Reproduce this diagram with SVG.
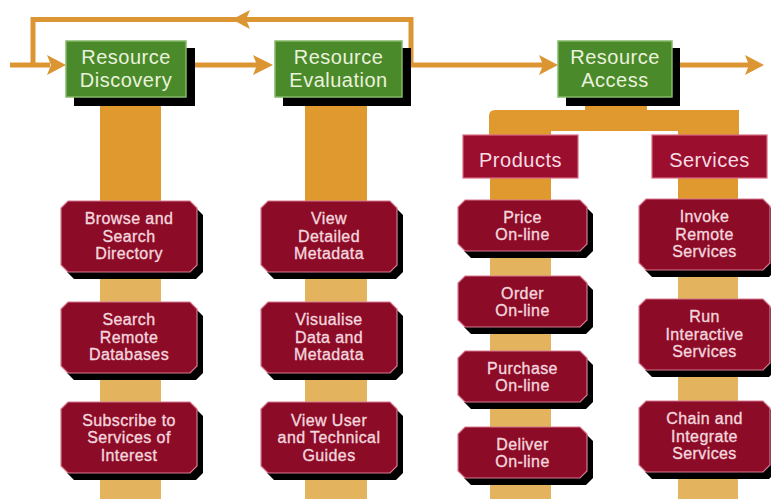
<svg xmlns="http://www.w3.org/2000/svg" xmlns:xlink="http://www.w3.org/1999/xlink" width="771" height="499" viewBox="0 0 771 499">
<style>
.bg{fill:#ffffff}
.line{fill:none;stroke:#DB9533;stroke-width:5}
.head{fill:#DB9533}
.barTop{fill:#E0992F}
.barLow{fill:#E3B45D}
.green{fill:#4B8A2B;stroke:#86B868;stroke-width:1.5}
.gshadow{fill:#000000}
.gtext{font-family:"Liberation Sans",Arial,sans-serif;font-size:20px;letter-spacing:0.5px;fill:#EAF2DC;text-anchor:middle}
.cat{fill:#9C0E2E;stroke:#D86C84;stroke-width:1.2}
.ctext{font-family:"Liberation Sans",Arial,sans-serif;font-size:20px;letter-spacing:0.5px;fill:#F6DCE4;text-anchor:middle}
.box{fill:#8C0B27;stroke:#D77A90;stroke-width:1.2}
.bshadow{fill:#000000}
.btext{font-family:"Liberation Sans",Arial,sans-serif;font-size:16px;letter-spacing:0.4px;fill:#F3D6DE;stroke:#F3D6DE;stroke-width:0.35px;text-anchor:middle}
</style>
<defs>
<path id="boxA" d="M7,0 H129 L136,7 V64 L129,71 H7 L0,64 V7 Z"/>
<path id="boxB" d="M7,0 H122 L129,7 V44 L122,51 H7 L0,44 V7 Z"/>
<path id="boxC" d="M7,0 H124 L131,7 V64 L124,71 H7 L0,64 V7 Z"/>
</defs>
<rect class="bg" x="0" y="0" width="771" height="499"/>

<g id="bars">
<rect class="barTop" x="100" y="97" width="61" height="105"/>
<rect class="barLow" x="100" y="202" width="61" height="297"/>
<rect class="barTop" x="305" y="97" width="62" height="105"/>
<rect class="barLow" x="305" y="202" width="62" height="297"/>
<rect class="barTop" x="585" y="97" width="62" height="15"/>
<path class="barTop" d="M495,110 H739 V131 H551 V136 H489 V116 Q489,110 495,110 Z"/>
<rect class="barTop" x="678" y="128" width="61" height="8"/>
<rect class="barTop" x="490" y="177" width="61" height="24"/>
<rect class="barLow" x="490" y="200" width="61" height="299"/>
<rect class="barTop" x="678" y="177" width="60" height="23"/>
<rect class="barLow" x="678" y="199" width="60" height="300"/>
</g>

<g id="connectors">
<path class="line" d="M10,65 H50"/>
<path class="line" d="M33,65 V19.5 H411 V65"/>
<path class="line" d="M195,65 H258"/>
<path class="line" d="M411,65 H543"/>
<path class="line" d="M680,65 H749"/>
<polygon class="head" points="66,65 47,55 51,65 47,75"/>
<polygon class="head" points="273,65 253,55 257,65 253,75"/>
<polygon class="head" points="558,65 539,55 543,65 539,75"/>
<polygon class="head" points="764,65 745,55 749,65 745,75"/>
<polygon class="head" points="232,19.5 250,10 246,19.5 250,29"/>
</g>

<g id="discovery">
<rect class="gshadow" x="74" y="48" width="121" height="58"/>
<rect class="green" x="66" y="41" width="120" height="56"/>
<text class="gtext" x="126" y="64">Resource</text>
<text class="gtext" x="126" y="87">Discovery</text>
</g>
<g id="evaluation">
<rect class="gshadow" x="283" y="48" width="128" height="58"/>
<rect class="green" x="275" y="41" width="127" height="56"/>
<text class="gtext" x="338.5" y="64">Resource</text>
<text class="gtext" x="338.5" y="87">Evaluation</text>
</g>
<g id="access">
<rect class="gshadow" x="566" y="48" width="114" height="58"/>
<rect class="green" x="558" y="41" width="114" height="56"/>
<text class="gtext" x="615" y="64">Resource</text>
<text class="gtext" x="615" y="87">Access</text>
</g>

<g id="products">
<rect class="cat" x="463" y="135" width="115" height="43"/>
<text class="ctext" x="520.5" y="167">Products</text>
</g>
<g id="services">
<rect class="cat" x="652" y="135" width="115" height="43"/>
<text class="ctext" x="709.5" y="167">Services</text>
</g>

<g id="browse">
<use href="#boxA" class="bshadow" x="67" y="208"/>
<use href="#boxA" class="box" x="61" y="201"/>
<text class="btext" x="129" y="224">Browse and</text>
<text class="btext" x="129" y="241.5">Search</text>
<text class="btext" x="129" y="259">Directory</text>
</g>
<g id="search-remote">
<use href="#boxA" class="bshadow" x="67" y="309"/>
<use href="#boxA" class="box" x="61" y="302"/>
<text class="btext" x="129" y="325">Search</text>
<text class="btext" x="129" y="342.5">Remote</text>
<text class="btext" x="129" y="360">Databases</text>
</g>
<g id="subscribe">
<use href="#boxA" class="bshadow" x="67" y="409"/>
<use href="#boxA" class="box" x="61" y="402"/>
<text class="btext" x="129" y="425.5">Subscribe to</text>
<text class="btext" x="129" y="443">Services of</text>
<text class="btext" x="129" y="460.5">Interest</text>
</g>

<g id="view-detailed">
<use href="#boxA" class="bshadow" x="267" y="208"/>
<use href="#boxA" class="box" x="261" y="201"/>
<text class="btext" x="329" y="224">View</text>
<text class="btext" x="329" y="241.5">Detailed</text>
<text class="btext" x="329" y="259">Metadata</text>
</g>
<g id="visualise">
<use href="#boxA" class="bshadow" x="267" y="309"/>
<use href="#boxA" class="box" x="261" y="302"/>
<text class="btext" x="329" y="325">Visualise</text>
<text class="btext" x="329" y="342.5">Data and</text>
<text class="btext" x="329" y="360">Metadata</text>
</g>
<g id="view-guides">
<use href="#boxA" class="bshadow" x="267" y="409"/>
<use href="#boxA" class="box" x="261" y="402"/>
<text class="btext" x="329" y="425.5">View User</text>
<text class="btext" x="329" y="443">and Technical</text>
<text class="btext" x="329" y="460.5">Guides</text>
</g>

<g id="price">
<use href="#boxB" class="bshadow" x="464" y="207"/>
<use href="#boxB" class="box" x="458" y="200"/>
<text class="btext" x="522.5" y="223">Price</text>
<text class="btext" x="522.5" y="240">On-line</text>
</g>
<g id="order">
<use href="#boxB" class="bshadow" x="464" y="283"/>
<use href="#boxB" class="box" x="458" y="276"/>
<text class="btext" x="522.5" y="299">Order</text>
<text class="btext" x="522.5" y="316">On-line</text>
</g>
<g id="purchase">
<use href="#boxB" class="bshadow" x="464" y="358"/>
<use href="#boxB" class="box" x="458" y="351"/>
<text class="btext" x="522.5" y="374">Purchase</text>
<text class="btext" x="522.5" y="391">On-line</text>
</g>
<g id="deliver">
<use href="#boxB" class="bshadow" x="464" y="434"/>
<use href="#boxB" class="box" x="458" y="427"/>
<text class="btext" x="522.5" y="450">Deliver</text>
<text class="btext" x="522.5" y="467">On-line</text>
</g>

<g id="invoke">
<use href="#boxC" class="bshadow" x="645" y="206"/>
<use href="#boxC" class="box" x="639" y="199"/>
<text class="btext" x="704.5" y="222">Invoke</text>
<text class="btext" x="704.5" y="239.5">Remote</text>
<text class="btext" x="704.5" y="257">Services</text>
</g>
<g id="run">
<use href="#boxC" class="bshadow" x="645" y="306"/>
<use href="#boxC" class="box" x="639" y="299"/>
<text class="btext" x="704.5" y="322">Run</text>
<text class="btext" x="704.5" y="339.5">Interactive</text>
<text class="btext" x="704.5" y="357">Services</text>
</g>
<g id="chain">
<use href="#boxC" class="bshadow" x="645" y="408"/>
<use href="#boxC" class="box" x="639" y="401"/>
<text class="btext" x="704.5" y="424">Chain and</text>
<text class="btext" x="704.5" y="441.5">Integrate</text>
<text class="btext" x="704.5" y="459">Services</text>
</g>
</svg>
